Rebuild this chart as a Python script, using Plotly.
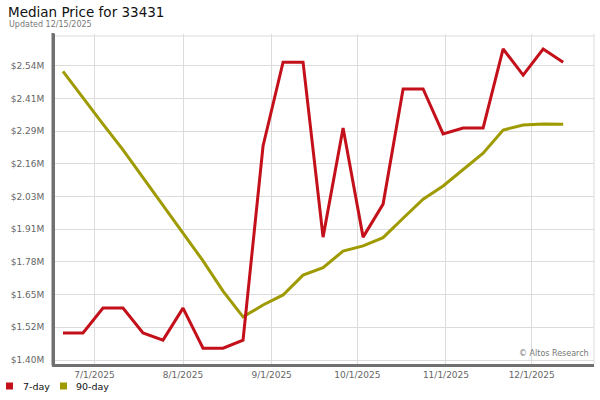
import plotly.graph_objects as go

dates = ["2025-06-20", "2025-06-27", "2025-07-04", "2025-07-11", "2025-07-18", "2025-07-25",
         "2025-08-01", "2025-08-08", "2025-08-15", "2025-08-22", "2025-08-29", "2025-09-05",
         "2025-09-12", "2025-09-19", "2025-09-26", "2025-10-03", "2025-10-10", "2025-10-17",
         "2025-10-24", "2025-10-31", "2025-11-07", "2025-11-14", "2025-11-21", "2025-11-28",
         "2025-12-05", "2025-12-12"]

price_7day = [1505000, 1505000, 1601000, 1601000, 1505000, 1477000,
              1601000, 1446000, 1446000, 1477000, 2229000, 2554000,
              2554000, 1876000, 2299000, 1876000, 2004000, 2450000,
              2450000, 2276000, 2299000, 2299000, 2605000, 2504000,
              2605000, 2554000]

price_90day = [2518000, 2415000, 2314000, 2214000, 2105000, 1997000,
               1892000, 1784000, 1667000, 1567000, 1613000, 1652000,
               1729000, 1758000, 1822000, 1842000, 1874000, 1949000,
               2023000, 2074000, 2139000, 2201000, 2291000, 2310000,
               2314000, 2313000]

y_tick_values = [1400000, 1526700, 1653300, 1780000, 1906700, 2033300,
                 2160000, 2286700, 2413300, 2540000]
y_tick_labels = ["$1.40M", "$1.52M", "$1.65M", "$1.78M", "$1.91M", "$2.03M",
                 "$2.16M", "$2.29M", "$2.41M", "$2.54M"]

series_names = ["7-day", "90-day"]

RED = "#c4101a"
OLIVE = "#9e9a00"
AXIS = "#707070"
FONT = "DejaVu Sans"

fig = go.Figure()
fig.add_trace(go.Scatter(x=dates, y=price_90day, mode="lines", name=series_names[1],
                         line=dict(color=OLIVE, width=3), showlegend=False))
fig.add_trace(go.Scatter(x=dates, y=price_7day, mode="lines", name=series_names[0],
                         line=dict(color=RED, width=3), showlegend=False))

L, R, T, B = 55, 6, 34, 36
pw, ph = 600 - L - R, 400 - T - B


def px(xp):
    return (xp - L) / pw


def py(yp):
    return ((400 - B) - yp) / ph


annotations = [
    dict(text="Median Price for 33431", x=px(6), y=py(12), xanchor="left",
         font=dict(family=FONT, size=13.5, color="#111")),
    dict(text="Updated 12/15/2025", x=px(7), y=py(25), xanchor="left",
         font=dict(family=FONT, size=8, color="#777")),
    dict(text="© Altos Research", x=px(591), y=py(353), xanchor="right",
         font=dict(family=FONT, size=8, color="#777")),
    dict(text=series_names[0], x=px(21), y=py(386), xanchor="left",
         font=dict(family=FONT, size=9.5, color="#111")),
    dict(text=series_names[1], x=px(74), y=py(386), xanchor="left",
         font=dict(family=FONT, size=9.5, color="#111")),
]
for a in annotations:
    a.update(xref="paper", yref="paper", yanchor="middle", showarrow=False)

shapes = [
    dict(type="line", x0=0, x1=1, y0=py(36), y1=py(36),
         line=dict(color="#dcdcdc", width=1), layer="below"),
    dict(type="line", x0=1, x1=1, y0=0, y1=1,
         line=dict(color="#dcdcdc", width=1), layer="below"),
    dict(type="line", x0=px(53), x1=px(53), y0=py(365.5), y1=py(33),
         line=dict(color=AXIS, width=3), layer="above"),
    dict(type="rect", x0=px(6), x1=px(13), y0=py(389.5), y1=py(382.5),
         fillcolor=RED, line=dict(width=0)),
    dict(type="rect", x0=px(60), x1=px(67), y0=py(389.5), y1=py(382.5),
         fillcolor=OLIVE, line=dict(width=0)),
]
for s in shapes:
    s.update(xref="paper", yref="paper")

fig.update_layout(
    width=600, height=400,
    margin=dict(l=L, r=R, t=T, b=B, autoexpand=False),
    paper_bgcolor="white", plot_bgcolor="white",
    font=dict(family=FONT, size=9, color="#666"),
    showlegend=False,
    xaxis=dict(type="date", range=["2025-06-17 05:00", "2025-12-22 19:00"],
               tick0="2025-07-01", dtick="M1", tickformat="%-m/%-d/%Y",
               showgrid=True, gridcolor="#dcdcdc", gridwidth=1,
               showline=True, linecolor=AXIS, linewidth=3,
               ticks="", zeroline=False, automargin=False,
               tickfont=dict(family=FONT, size=9, color="#666")),
    yaxis=dict(range=[1384500, 2663000], tickvals=y_tick_values, ticktext=y_tick_labels,
               showgrid=True, gridcolor="#dcdcdc", gridwidth=1,
               showline=True, linecolor=AXIS, linewidth=3,
               ticks="outside", ticklen=6, tickcolor="rgba(0,0,0,0)",
               zeroline=False, automargin=False,
               tickfont=dict(family=FONT, size=9, color="#666")),
    annotations=annotations,
    shapes=shapes,
)

fig.write_html("out.html", config={"displayModeBar": False},
               post_script="document.body.style.margin='0';document.body.style.overflow='hidden';")
